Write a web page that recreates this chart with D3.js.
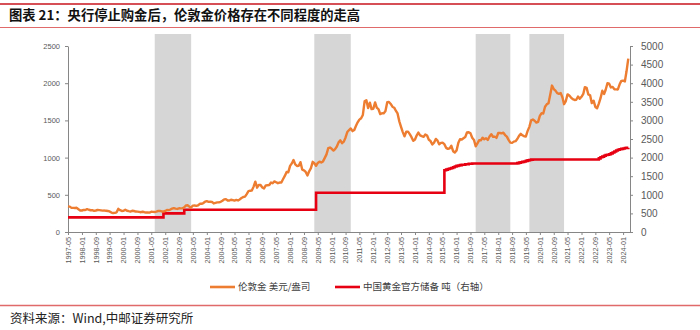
<!DOCTYPE html>
<html><head><meta charset="utf-8">
<script src="https://cdn.jsdelivr.net/npm/d3@7/dist/d3.min.js"></script>
<style>
html,body{margin:0;padding:0;background:#fff;}
svg{display:block;}
</style>
</head><body>
<svg id="c" width="700" height="330"></svg>
<script>
// ---------- DATA ----------
const titleText = "图表 21：央行停止购金后，伦敦金价格存在不同程度的走高";
const sourceText = "资料来源：Wind,中邮证券研究所";
const seriesNames = ["伦敦金 美元/盎司", "中国黄金官方储备 吨（右轴）"];
const startMonth = "1997-05";
// London gold, USD/oz, monthly from 1997-05
const goldPrice = [
 345,341,324,324,323,325,306,289,
 289,297,296,308,299,292,293,284,289,296,294,291,
 287,288,286,282,277,261,256,257,265,311,293,283,
 284,300,286,280,275,286,282,275,274,270,266,272,
 266,262,263,261,272,270,268,273,283,283,276,275,
 282,296,294,302,314,321,314,310,319,317,319,333,
 357,359,340,328,355,356,351,359,379,379,389,407,
 414,405,406,404,384,392,398,400,406,420,439,442,
 424,423,434,429,422,431,424,438,457,470,476,510,
 549,555,557,610,676,596,633,632,599,586,627,629,
 631,665,655,680,668,656,665,665,712,754,806,803,
 889,922,968,909,888,889,939,839,829,807,760,816,
 858,943,924,890,928,946,934,949,996,1043,1127,1135,
 1118,1095,1114,1149,1205,1232,1193,1215,1271,1343,1370,1391,
 1356,1372,1424,1474,1511,1529,1573,1756,1772,1666,1739,1652,
 1656,1742,1673,1650,1585,1596,1594,1627,1745,1747,1721,1684,
 1671,1627,1593,1487,1414,1343,1286,1348,1349,1316,1275,1225,
 1244,1300,1336,1299,1288,1279,1311,1296,1239,1222,1176,1201,
 1251,1227,1179,1198,1199,1181,1131,1117,1125,1159,1086,1068,
 1097,1199,1246,1243,1260,1276,1337,1341,1326,1267,1238,1152,
 1192,1234,1231,1267,1246,1260,1237,1283,1315,1280,1282,1265,
 1331,1331,1325,1335,1303,1282,1238,1202,1198,1215,1221,1250,
 1292,1320,1300,1286,1284,1359,1413,1500,1511,1495,1471,1480,
 1560,1597,1592,1683,1716,1732,1846,1968,1921,1900,1866,1858,
 1867,1808,1718,1760,1850,1834,1807,1785,1775,1777,1821,1790,
 1817,1856,1947,1937,1849,1837,1732,1765,1681,1664,1726,1798,
 1898,1855,1912,2000,1993,1943,1951,1918,1917,1916,1985,2031,
 2034,2024,2160,2331
];
// China official gold reserves (tonnes): month of change and new level
const reserveMonths = ["1997-05","2001-12","2002-12","2009-04","2015-06","2015-07","2015-08","2015-09","2015-10","2015-11","2015-12","2016-01","2016-02","2016-03","2016-04","2016-06","2016-08","2016-10","2018-12","2019-01","2019-02","2019-03","2019-04","2019-05","2019-06","2019-07","2019-08","2019-09","2022-11","2022-12","2023-01","2023-02","2023-03","2023-04","2023-05","2023-06","2023-07","2023-08","2023-09","2023-10","2023-11","2023-12","2024-01","2024-02","2024-03","2024-04"];
const reserveTonnes = [394,500,600,1054,1658,1677,1693,1708,1722,1739,1762,1778,1788,1797,1808,1820,1833,1843,1852,1864,1874,1885,1896,1912,1926,1936,1945,1948,1980,2010,2025,2050,2068,2076,2092,2113,2137,2165,2191,2210,2226,2235,2245,2257,2262,2264];
// periods when the central bank paused purchases (shaded)
const pauseStart = ["2001-07","2009-03","2016-12","2019-07"];
const pauseEnd   = ["2003-04","2010-12","2018-08","2021-03"];
// axis ticks
const xTickStep = 8; // months
const leftTicks = [0,500,1000,1500,2000,2500];
const rightTicks = [0,500,1000,1500,2000,2500,3000,3500,4000,4500,5000];

// ---------- HELPERS ----------
const parseM = s => { const [y,m] = s.split("-").map(Number); return new Date(Date.UTC(y, m-1, 1)); };
const addM = (d, n) => new Date(Date.UTC(d.getUTCFullYear(), d.getUTCMonth()+n, 1));
const fmtM = d3.utcFormat("%Y-%m");
const fmtN = d3.format("d");

const svg = d3.select("#c");
const pL = 68, pR = 630, pT = 34, pB = 232;

const t0 = parseM(startMonth);
const x = d3.scaleUtc().domain([t0, addM(t0, goldPrice.length)]).range([pL, pR]);
const yL = d3.scaleLinear().domain([0, 2500]).range([pB, 46]);
const yR = d3.scaleLinear().domain([0, 5000]).range([pB, 46]);

const goldData = goldPrice.map((v,i) => ({d: addM(t0, i), v}));
const resData = reserveMonths.map((m,i) => ({d: parseM(m), v: reserveTonnes[i]}));

// ---------- DECORATION ----------
svg.append("line").attr("x1",0).attr("x2",700).attr("y1",4).attr("y2",4)
  .attr("stroke","#c8141e").attr("stroke-width",1.6);
svg.append("text").attr("x",9).attr("y",20).text(titleText)
  .attr("font-family","'Noto Sans CJK SC'").attr("font-weight","bold")
  .attr("font-size",13.3).attr("fill","#111");
svg.append("line").attr("x1",0).attr("x2",700).attr("y1",27.5).attr("y2",27.5)
  .attr("stroke","#e06a6a").attr("stroke-width",1);
svg.append("line").attr("x1",0).attr("x2",700).attr("y1",305.5).attr("y2",305.5)
  .attr("stroke","#e06a6a").attr("stroke-width",1.5);
svg.append("text").attr("x",10).attr("y",323).text(sourceText)
  .attr("font-family","'Noto Sans CJK SC'").attr("font-size",12.5).attr("fill","#222");

// ---------- SHADED BANDS ----------
svg.append("g").selectAll("rect").data(pauseStart).join("rect")
  .attr("x", (s) => x(parseM(s)))
  .attr("width", (s,i) => x(parseM(pauseEnd[i])) - x(parseM(s)))
  .attr("y", pT).attr("height", pB - pT)
  .attr("fill", "#d6d6d6");

// ---------- AXES ----------
const axisColor = "#868686", labelColor = "#595959";
const xTicks = d3.range(0, goldPrice.length, xTickStep).map(i => addM(t0, i));
const gx = svg.append("g").attr("transform",`translate(0,${pB})`)
  .call(d3.axisBottom(x).tickValues(xTicks).tickFormat(fmtM).tickSizeInner(3).tickSizeOuter(0));
gx.selectAll("text").attr("transform","rotate(-90)").attr("text-anchor","end")
  .attr("x",-5).attr("y",0).attr("dy","0.32em")
  .attr("font-family","'Liberation Sans', Arial").attr("font-size",7.2).attr("fill",labelColor);

const gl = svg.append("g").attr("transform",`translate(${pL},0)`)
  .call(d3.axisLeft(yL).tickValues(leftTicks).tickFormat(fmtN).tickSizeInner(3).tickSizeOuter(0).tickPadding(5));
gl.selectAll("text").attr("font-family","'Liberation Sans', Arial").attr("font-size",7.5).attr("fill",labelColor);

const gr = svg.append("g").attr("transform",`translate(${pR},0)`)
  .call(d3.axisRight(yR).tickValues(rightTicks).tickFormat(fmtN).tickSizeInner(3).tickSizeOuter(0).tickPadding(8));
gr.selectAll("text").attr("font-family","'Liberation Sans', Arial").attr("font-size",10).attr("fill",labelColor);

[gx,gl,gr].forEach(g => { g.select(".domain").attr("stroke",axisColor); g.selectAll(".tick line").attr("stroke",axisColor); });

// ---------- LINES ----------
svg.append("path").datum(resData)
  .attr("d", d3.line().x(d => x(d.d)).y(d => yR(d.v)).curve(d3.curveStepAfter))
  .attr("fill","none").attr("stroke","#e60012").attr("stroke-width",2.6);
svg.append("path").datum(goldData)
  .attr("d", d3.line().x(d => x(d.d)).y(d => yL(d.v)))
  .attr("fill","none").attr("stroke","#ed7d31").attr("stroke-width",2.4).attr("stroke-linejoin","round");

// ---------- LEGEND ----------
const legend = [
  {name: seriesNames[0], color: "#ed7d31", x: 210},
  {name: seriesNames[1], color: "#e60012", x: 335}
];
const lg = svg.append("g").attr("transform","translate(0,287)");
lg.selectAll("line").data(legend).join("line")
  .attr("x1", d => d.x).attr("x2", d => d.x + 25).attr("y1",0).attr("y2",0)
  .attr("stroke", d => d.color).attr("stroke-width",2.6);
lg.selectAll("text").data(legend).join("text")
  .attr("x", d => d.x + 28).attr("y",0).attr("dy","0.35em").text(d => d.name)
  .attr("font-family","'Noto Sans CJK SC'").attr("font-size",9.5).attr("fill","#404040");
</script>
</body></html>
